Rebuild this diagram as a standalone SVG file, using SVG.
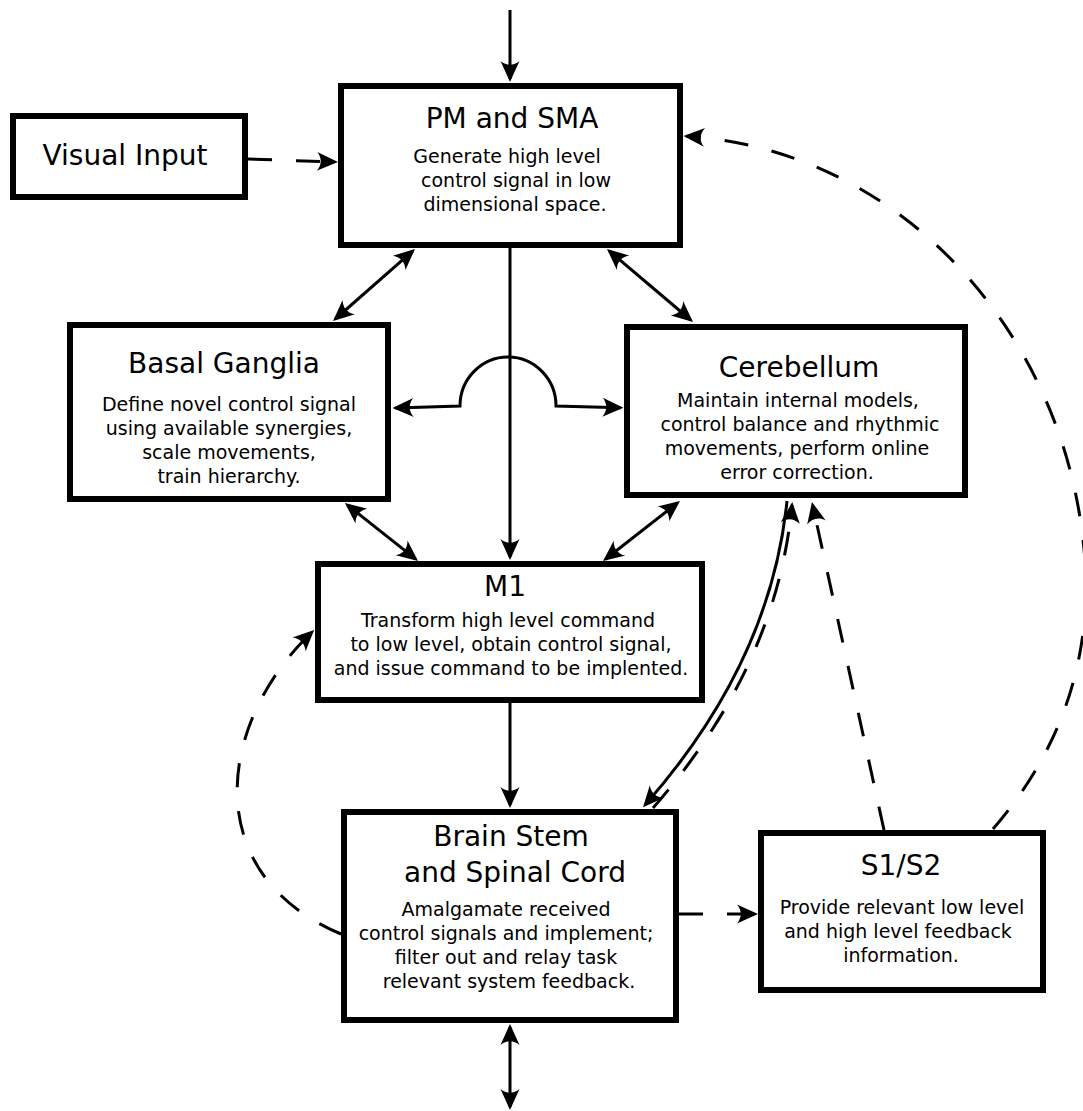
<svg xmlns="http://www.w3.org/2000/svg" width="1083" height="1111" viewBox="0 0 1083 1111">
<style>
.box{fill:#fff;stroke:#000;stroke-width:6}
text{font-family:"DejaVu Sans","Liberation Sans",sans-serif;fill:#000;text-anchor:middle}
.t{font-size:28px}
.b{font-size:19px}
.c{fill:none;stroke:#000;stroke-width:3}
.d{stroke-dasharray:24 24}
</style>
<defs>
<marker id="ah" viewBox="-22 -12 26 24" markerWidth="26" markerHeight="24" refX="0" refY="0" orient="auto-start-reverse" markerUnits="userSpaceOnUse">
<path d="M3,0 L-18,-9.5 C-13,-3.5 -13,3.5 -18,9.5 Z" fill="#000"/>
</marker>
</defs>
<rect width="1083" height="1111" fill="#fff"/>
<g id="connectors">
<path class="c" d="M510,10 L510,79" marker-end="url(#ah)"/>
<path class="c" d="M335.3,319 L412.7,251" marker-start="url(#ah)" marker-end="url(#ah)"/>
<path class="c" d="M609.3,251 L690.7,320" marker-start="url(#ah)" marker-end="url(#ah)"/>
<path class="c" d="M510,248 L510,557" marker-end="url(#ah)"/>
<path class="c" d="M395.5,408 L460,406 A48,49 0 0 1 556,406 L620.5,407.7" marker-start="url(#ah)" marker-end="url(#ah)"/>
<path class="c" d="M347.3,504.9 L415.7,559.1" marker-start="url(#ah)" marker-end="url(#ah)"/>
<path class="c" d="M677.6,502.8 L605.4,559.2" marker-start="url(#ah)" marker-end="url(#ah)"/>
<path class="c" d="M510,703 L510,805" marker-end="url(#ah)"/>
<path class="c" d="M510,1027 L510,1107" marker-start="url(#ah)" marker-end="url(#ah)"/>
<path class="c d" d="M679,914 L755,914" marker-end="url(#ah)"/>
<path class="c d" d="M248,159 L335,162" marker-end="url(#ah)"/>
<path class="c d" d="M341,934 C200,875 215,725 312,632" marker-end="url(#ah)"/>
<path class="c" d="M787,501 C775,620 720,720 645,805" marker-end="url(#ah)"/>
<path class="c d" d="M653,808 C728,722 781,622 792,505" marker-end="url(#ah)"/>
<path class="c d" d="M884,830 L812.6,504.9" marker-end="url(#ah)"/>
<path class="c d" d="M993,829 C1070,740 1095,640 1083,540 C1060,330 900,150 686.5,136.2" marker-end="url(#ah)"/>
</g>
<g id="visual-input">
<rect class="box" x="13" y="116" width="232" height="81"/>
<text class="t" x="125" y="165">Visual Input</text>
</g>
<g id="pm-sma">
<rect class="box" x="341" y="86" width="339" height="159"/>
<text class="t" x="512" y="128">PM and SMA</text>
<text class="b" x="507" y="163">Generate high level</text>
<text class="b" x="516" y="187">control signal in low</text>
<text class="b" x="515" y="211">dimensional space.</text>
</g>
<g id="basal-ganglia">
<rect class="box" x="70" y="325" width="318" height="174"/>
<text class="t" x="224" y="373">Basal Ganglia</text>
<text class="b" x="229" y="411">Define novel control signal</text>
<text class="b" x="229" y="435">using available synergies,</text>
<text class="b" x="229" y="459">scale movements,</text>
<text class="b" x="229" y="483">train hierarchy.</text>
</g>
<g id="cerebellum">
<rect class="box" x="627" y="327" width="338" height="168"/>
<text class="t" x="799" y="377">Cerebellum</text>
<text class="b" x="798" y="407">Maintain internal models,</text>
<text class="b" x="800" y="431">control balance and rhythmic</text>
<text class="b" x="797" y="455">movements, perform online</text>
<text class="b" x="797" y="479">error correction.</text>
</g>
<g id="m1">
<rect class="box" x="318" y="564" width="384" height="136"/>
<text class="t" x="505" y="596">M1</text>
<text class="b" x="508" y="627">Transform high level command</text>
<text class="b" x="511" y="651">to low level, obtain control signal,</text>
<text class="b" x="511" y="675">and issue command to be implented.</text>
</g>
<g id="brain-stem">
<rect class="box" x="344" y="812" width="332" height="208"/>
<text class="t" x="511" y="846">Brain Stem</text>
<text class="t" x="515" y="882">and Spinal Cord</text>
<text class="b" x="506" y="916">Amalgamate received</text>
<text class="b" x="506" y="940">control signals and implement;</text>
<text class="b" x="506" y="964">filter out and relay task</text>
<text class="b" x="509" y="988">relevant system feedback.</text>
</g>
<g id="s1-s2">
<rect class="box" x="761" y="833" width="282" height="157"/>
<text class="t" x="901" y="875">S1/S2</text>
<text class="b" x="902" y="914">Provide relevant low level</text>
<text class="b" x="898" y="938">and high level feedback</text>
<text class="b" x="901" y="962">information.</text>
</g>
</svg>
